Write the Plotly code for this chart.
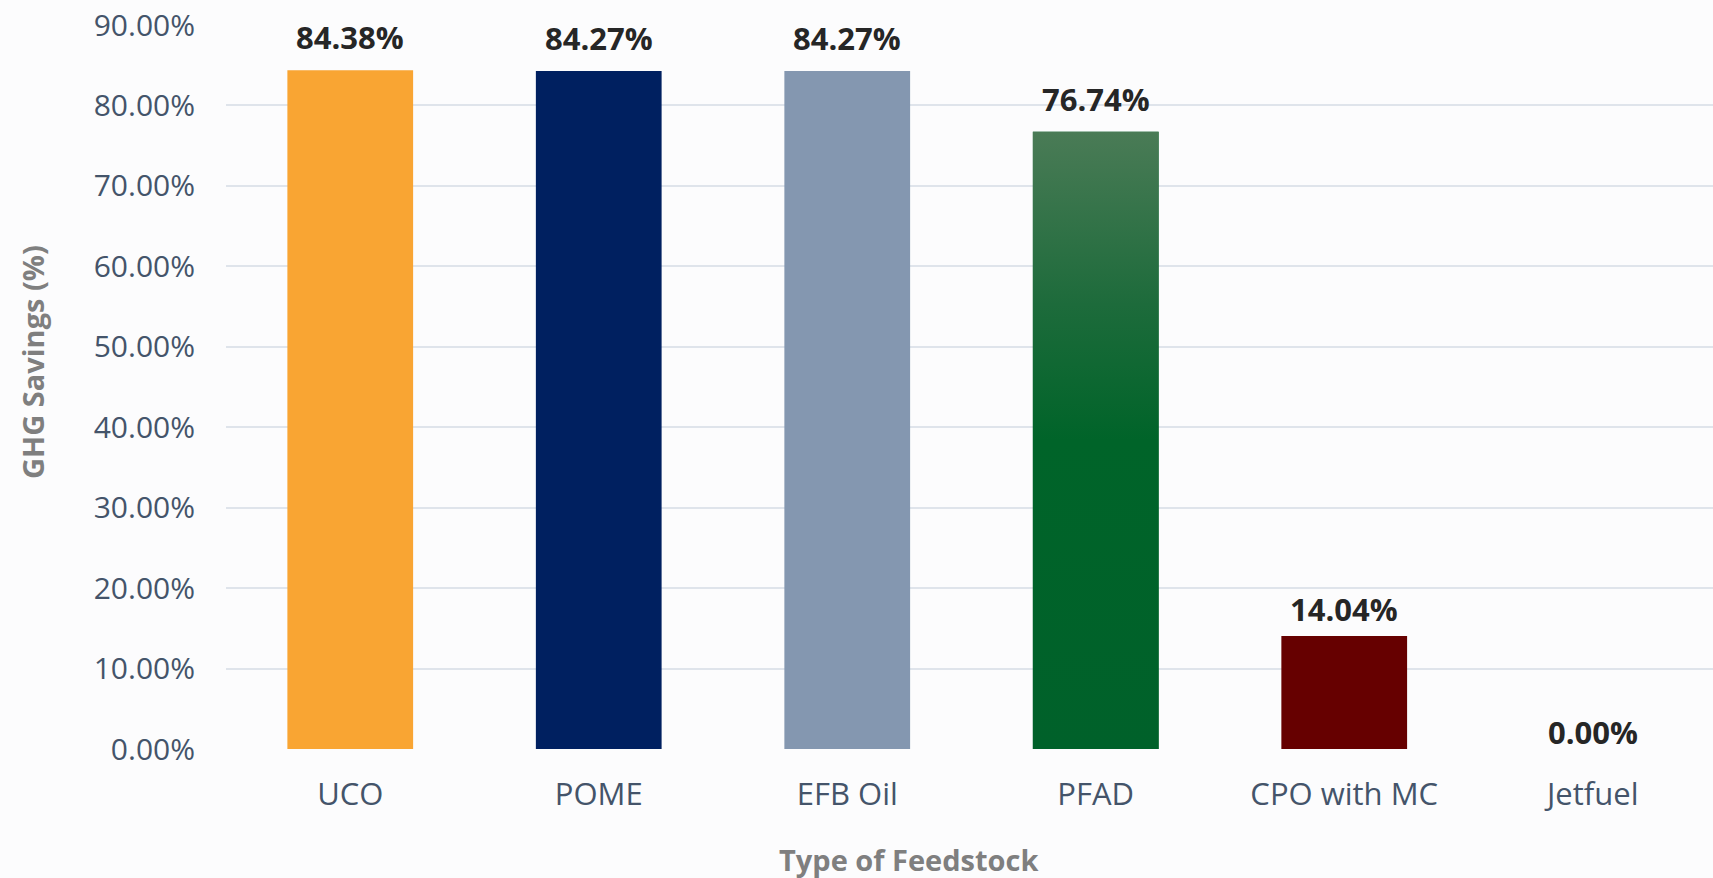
import plotly.graph_objects as go

categories = ["UCO", "POME", "EFB Oil", "PFAD", "CPO with MC", "Jetfuel"]
ghg_savings = [84.38, 84.27, 84.27, 76.74, 14.04, 0.00]
bar_colors = ["#F9A533", "#002060", "#8497B0", "#00622A", "#660000", "#B0B0B0"]
y_ticks = [0, 10, 20, 30, 40, 50, 60, 70, 80, 90]
y_tick_labels = [f"{t:.2f}%" for t in y_ticks]
gradient_category = "PFAD"
gradient_scale = [[0, "#00612A"], [0.5, "#006429"], [0.72, "#1D6B3B"], [1, "#4A7B56"]]

BAR_W = 0.506
idx = list(range(len(categories)))

fig = go.Figure()
fig.add_trace(go.Bar(
    x=idx, y=ghg_savings, width=BAR_W,
    marker=dict(color=bar_colors, line=dict(width=0)),
    hoverinfo="skip", showlegend=False,
))

# gradient overlay for PFAD bar, derived from its data value
gi = categories.index(gradient_category)
gv = ghg_savings[gi]
fig.add_trace(go.Scatter(
    x=[gi - BAR_W / 2, gi + BAR_W / 2, gi + BAR_W / 2, gi - BAR_W / 2, gi - BAR_W / 2],
    y=[0, 0, gv, gv, 0],
    mode="lines", line=dict(width=0), fill="toself",
    fillgradient=dict(type="vertical", colorscale=gradient_scale),
    hoverinfo="skip", showlegend=False,
))


def label_shift(v):
    if v > 50:
        return 10
    if v > 0:
        return 4
    return -6


for i, v in zip(idx, ghg_savings):
    fig.add_annotation(
        x=i, y=v, text=f"{v:.2f}%", showarrow=False, yanchor="bottom",
        yshift=label_shift(v),
        font=dict(family="Open Sans", size=31, color="#262626", weight="bold"),
    )

fig.add_annotation(
    xref="paper", yref="paper", x=-0.1305, y=0.5345, text="GHG Savings (%)",
    textangle=-90, showarrow=False, xanchor="center", yanchor="middle",
    font=dict(family="Open Sans", size=29, color="#7F7F7F", weight="bold"),
)
fig.add_annotation(
    xref="paper", yref="paper", x=0.4587, y=-0.1533, text="Type of Feedstock",
    showarrow=False, xanchor="center", yanchor="middle",
    font=dict(family="Open Sans", size=29, color="#7F7F7F", weight="bold"),
)

fig.update_layout(
    width=1713, height=878,
    margin=dict(l=226, r=0, t=25, b=129),
    paper_bgcolor="#FCFCFD", plot_bgcolor="#FCFCFD",
    bargap=0.5,
    xaxis=dict(
        range=[-0.5, len(categories) - 0.516], tickvals=idx, ticktext=categories,
        showgrid=False, zeroline=False, showline=False, ticks="",
        tickfont=dict(family="Open Sans", size=31, color="#44546A"),
        ticklabelstandoff=24,
    ),
    yaxis=dict(
        range=[0, 90], tickvals=y_ticks, ticktext=y_tick_labels,
        showgrid=True, gridcolor="#DFE4EB", gridwidth=2,
        zeroline=False, showline=False, ticks="",
        tickfont=dict(family="Open Sans", size=30, color="#44546A"),
        ticklabelstandoff=30,
    ),
)

fig.write_html(
    "out.html",
    config={"displayModeBar": False},
    post_script="document.body.style.margin='0';document.body.style.overflow='hidden';",
)
